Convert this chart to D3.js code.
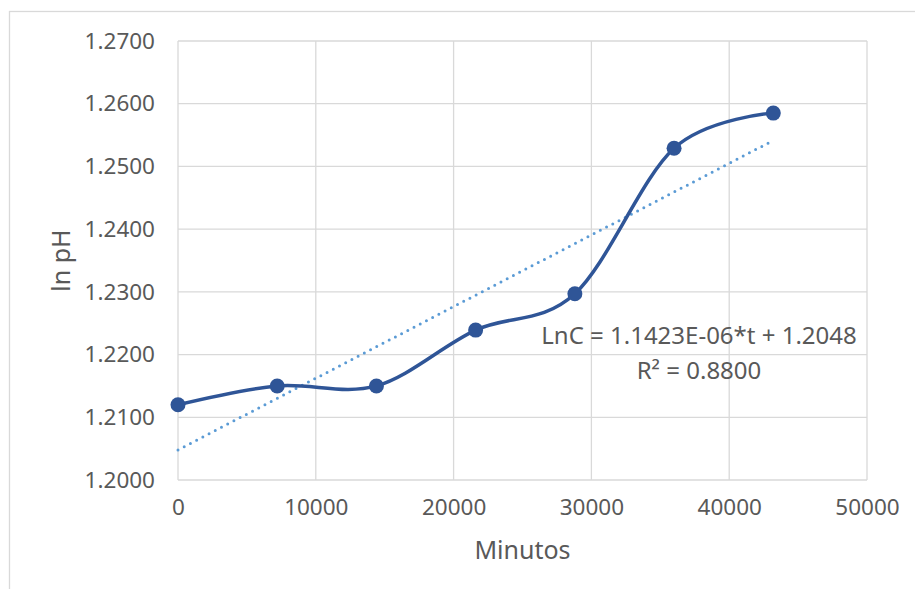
<!DOCTYPE html>
<html>
<head>
<meta charset="utf-8">
<script src="https://cdn.jsdelivr.net/npm/d3@7"></script>
<style>
  html, body { margin: 0; padding: 0; background: #fff; }
  svg { display: block; }
</style>
</head>
<body>
<svg id="chart" width="915" height="589"></svg>
<script>
// ---- Data ----
const minutes = [0, 7200, 14400, 21600, 28800, 36000, 43200];
const lnPH = [1.2120, 1.2150, 1.2150, 1.2239, 1.2297, 1.2529, 1.2585];
const xTicks = [0, 10000, 20000, 30000, 40000, 50000];
const yTicks = [1.2000, 1.2100, 1.2200, 1.2300, 1.2400, 1.2500, 1.2600, 1.2700];
const trendSlope = 1.1423e-6;
const trendIntercept = 1.2048;
const equationText = "LnC = 1.1423E-06*t + 1.2048";
const r2Label = "R² = 0.8800";
const xTitle = "Minutos";
const yTitle = "ln pH";

// ---- Layout ----
const svg = d3.select("#chart");
const plot = { left: 178, top: 41, right: 867, bottom: 480 };
const x = d3.scaleLinear().domain([0, 50000]).range([plot.left, plot.right]);
const y = d3.scaleLinear().domain([1.2, 1.27]).range([plot.bottom, plot.top]);
const font = "'Noto Sans', 'Open Sans', sans-serif";
const textColor = "#595959";
const gridColor = "#D9D9D9";

// chart border
svg.append("rect")
  .attr("x", 9.5).attr("y", 11.5)
  .attr("width", 1000).attr("height", 1000)
  .attr("fill", "none").attr("stroke", gridColor).attr("stroke-width", 1.3);

// gridlines
const grid = svg.append("g");
grid.selectAll("line.h").data(yTicks).join("line")
  .attr("x1", plot.left).attr("x2", plot.right)
  .attr("y1", d => y(d)).attr("y2", d => y(d))
  .attr("stroke", gridColor).attr("stroke-width", 1.3);
grid.selectAll("line.v").data(xTicks).join("line")
  .attr("y1", plot.top).attr("y2", plot.bottom)
  .attr("x1", d => x(d)).attr("x2", d => x(d))
  .attr("stroke", gridColor).attr("stroke-width", 1.3);

// axes (labels only)
const yAxis = d3.axisLeft(y).tickValues(yTicks).tickFormat(d3.format(".4f")).tickSize(0).tickPadding(23);
const gy = svg.append("g").attr("transform", `translate(${plot.left},0)`).call(yAxis);
gy.select(".domain").remove();
gy.selectAll("text").attr("font-family", font).attr("font-size", 22.5).attr("fill", textColor);

const xAxis = d3.axisBottom(x).tickValues(xTicks).tickFormat(d3.format("d")).tickSize(0).tickPadding(19);
const gx = svg.append("g").attr("transform", `translate(0,${plot.bottom})`).call(xAxis);
gx.select(".domain").remove();
gx.selectAll("text").attr("font-family", font).attr("font-size", 22.5).attr("fill", textColor);

// axis titles
svg.append("text")
  .attr("x", (plot.left + plot.right) / 2).attr("y", 559)
  .attr("text-anchor", "middle")
  .attr("font-family", font).attr("font-size", 25).attr("fill", textColor)
  .text(xTitle);
svg.append("text")
  .attr("transform", `translate(70,${(plot.top + plot.bottom) / 2}) rotate(-90)`)
  .attr("text-anchor", "middle")
  .attr("font-family", font).attr("font-size", 25).attr("fill", textColor)
  .text(yTitle);

// trendline
const tEnd = minutes[minutes.length - 1];
svg.append("line")
  .attr("x1", x(0)).attr("y1", y(trendIntercept))
  .attr("x2", x(tEnd)).attr("y2", y(trendIntercept + trendSlope * tEnd))
  .attr("stroke", "#5B9BD5").attr("stroke-width", 3)
  .attr("stroke-dasharray", "0,7").attr("stroke-linecap", "round");

// smoothed series line
const pts = minutes.map((m, i) => [m, lnPH[i]]);
const line = d3.line().x(d => x(d[0])).y(d => y(d[1])).curve(d3.curveCatmullRom.alpha(0));
svg.append("path").datum(pts)
  .attr("d", line)
  .attr("fill", "none").attr("stroke", "#2F5597").attr("stroke-width", 3.5);

svg.selectAll("circle.pt").data(pts).join("circle")
  .attr("cx", d => x(d[0])).attr("cy", d => y(d[1]))
  .attr("r", 7.5).attr("fill", "#2F5597");

// equation label
svg.append("text")
  .attr("x", 699).attr("y", 344)
  .attr("text-anchor", "middle")
  .attr("font-family", font).attr("font-size", 24).attr("fill", textColor)
  .text(equationText);
svg.append("text")
  .attr("x", 699).attr("y", 379)
  .attr("text-anchor", "middle")
  .attr("font-family", font).attr("font-size", 24).attr("fill", textColor)
  .text(r2Label);
</script>
</body>
</html>
